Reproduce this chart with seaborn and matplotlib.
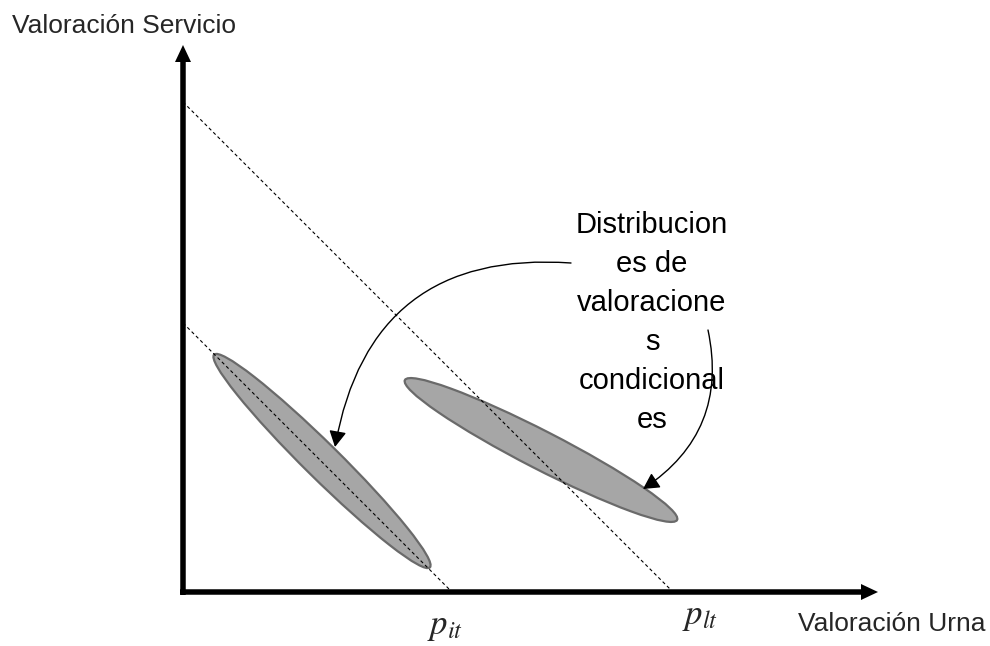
import numpy as np
import pandas as pd
import matplotlib
matplotlib.use("Agg")
import matplotlib.pyplot as plt
import seaborn as sns
from matplotlib.patches import Ellipse, FancyArrowPatch

# budget lines: where each dashed line crosses the axes
line_names = ["p_it", "p_lt"]
line_intercepts = [269, 490]

# conditional distributions (centre x, centre y, length, thickness, angle)
ell_x = [139, 358]
ell_y = [131, 142]
ell_len = [303, 306]
ell_thick = [35, 38]
ell_angle = [-44.6, -27.2]

# axis extents
x_axis_end = 695
y_axis_end = 547

note_lines = ["Distribucion", "es de", "valoracione", "s", "condicional", "es"]
x_label = "Valoración Urna"
y_label = "Valoración Servicio"
tick_labels = [r"$p_{it}$", r"$p_{lt}$"]

sns.set_theme(style="white")
plt.rcParams["font.family"] = ["Liberation Sans", "DejaVu Sans"]
plt.rcParams["mathtext.fontset"] = "stix"

fig = plt.figure(figsize=(9.9, 6.46), dpi=100)
ax = fig.add_axes([0, 0, 1, 1])
ax.set_xlim(-183, 807)
ax.set_ylim(-54, 592)
ax.axis("off")

# dashed budget lines
rows = []
for name, b in zip(line_names, line_intercepts):
    rows.append({"line": name, "x": 0, "y": b})
    rows.append({"line": name, "x": b, "y": 0})
lines_df = pd.DataFrame(rows)
sns.lineplot(data=lines_df, x="x", y="y", units="line", estimator=None,
             color="black", lw=0.8, ax=ax, zorder=3, legend=False,
             dashes=False, sort=False)
for ln in ax.lines:
    ln.set_dashes((3, 2.5))

# ellipses
for cx, cy, w, h, a in zip(ell_x, ell_y, ell_len, ell_thick, ell_angle):
    ax.add_patch(Ellipse((cx, cy), w, h, angle=a, facecolor="#a6a6a6",
                         edgecolor="#6a6a6a", lw=1.6, zorder=2))

# axes with arrows
ax.arrow(0, -3, 0, y_axis_end + 3, width=5.5, head_width=16, head_length=17,
         length_includes_head=True, color="black", lw=0, zorder=4)
ax.arrow(-3, 0, x_axis_end + 3, 0, width=5.5, head_width=16, head_length=17,
         length_includes_head=True, color="black", lw=0, zorder=4)

# note text
for i, s in enumerate(note_lines):
    ax.text(469, 359 - 39 * i, s, ha="center", va="baseline", fontsize=21,
            color="black", zorder=5)

# curved arrows
arrow_style = "-|>,head_length=0.65,head_width=0.35"
ax.add_patch(FancyArrowPatch((388, 329), (152, 145),
                             connectionstyle="arc3,rad=0.45",
                             arrowstyle=arrow_style, mutation_scale=15,
                             color="black", lw=1.0, shrinkA=0, shrinkB=0,
                             zorder=5))
ax.add_patch(FancyArrowPatch((525, 262), (460, 103),
                             connectionstyle="arc3,rad=-0.34",
                             arrowstyle=arrow_style, mutation_scale=15,
                             color="black", lw=1.0, shrinkA=0, shrinkB=0,
                             zorder=5))

# labels
ax.text(-171, 559, y_label, ha="left", va="baseline", fontsize=19)
ax.text(615, -39, x_label, ha="left", va="baseline", fontsize=19)
ax.text(262, -42, tick_labels[0], ha="center", va="baseline", fontsize=25)
ax.text(517, -32, tick_labels[1], ha="center", va="baseline", fontsize=25)

fig.savefig("out.png", dpi=100)
